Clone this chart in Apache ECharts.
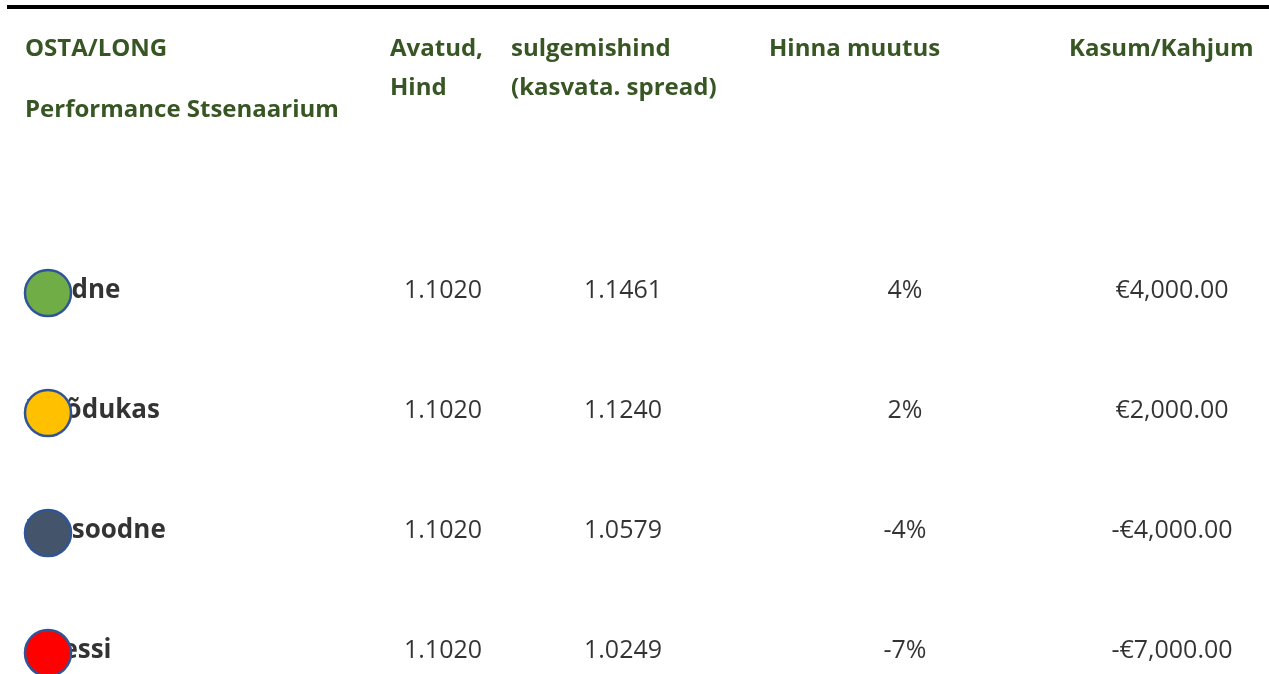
<!DOCTYPE html>
<html>
<head>
<meta charset="utf-8">
<script src="https://cdn.jsdelivr.net/npm/echarts@6/dist/echarts.min.js"></script>
<style>
  html, body { margin: 0; padding: 0; background: #fff; }
</style>
</head>
<body>
<div id="main" style="width:1269px;height:674px;"></div>
<script>
// tabeli andmed
const scenarios = ['Soodne', 'Mõõdukas', 'Ebasoodne', 'Stressi'];
const openPrice = [1.1020, 1.1020, 1.1020, 1.1020];
const closePrice = [1.1461, 1.1240, 1.0579, 1.0249];
const priceChange = [4, 2, -4, -7];
const profitLoss = [4000, 2000, -4000, -7000];
const dotColors = ['#70AD47', '#FFC000', '#44546A', '#FF0000'];

const headerTitle = ['OSTA/LONG', 'Performance Stsenaarium'];
const headerOpen = ['Avatud,', 'Hind'];
const headerClose = ['sulgemishind', '(kasvata. spread)'];
const headerChange = ['Hinna muutus'];
const headerPnl = ['Kasum/Kahjum'];

const FONT = '"Open Sans", sans-serif';
const GREEN = '#375623';

function money(v) {
  const s = '€' + Math.abs(v).toLocaleString('en-US', { minimumFractionDigits: 2, maximumFractionDigits: 2 });
  return v < 0 ? '-' + s : s;
}

// veergude asukohad (px)
const colName = 25, colOpen = 443, colClose = 623, colChange = 905, colPnl = 1172;

function textSeries(x, texts, align, bold) {
  return {
    type: 'scatter',
    symbolSize: 1,
    itemStyle: { color: 'rgba(0,0,0,0)' },
    silent: true,
    z: 2,
    data: scenarios.map((s, i) => ({ value: [x, s], label: { formatter: texts[i] } })),
    label: {
      show: true,
      position: 'inside',
      align: align,
      verticalAlign: 'middle',
      color: '#000',
      textBorderWidth: 0,
      fontFamily: FONT,
      fontSize: bold ? 26 : 25,
      fontWeight: bold ? 'bold' : 'normal'
    }
  };
}

const graphics = [
  { type: 'rect', shape: { x: 7, y: 5, width: 1262, height: 4 }, style: { fill: '#000' } }
];
// päise paigutus
[[colName, headerTitle, [49, 110]],
 [390, headerOpen, [49, 88]],
 [511, headerClose, [49, 88]],
 [769, headerChange, [49]],
 [1069, headerPnl, [49]]].forEach(([x, lines, ys]) => {
  lines.forEach((t, i) => {
    graphics.push({
      type: 'text', x: x, y: ys[i],
      style: { text: t, fill: GREEN, font: 'bold 24px ' + FONT, textVerticalAlign: 'middle' }
    });
  });
});

const chart = echarts.init(document.getElementById('main'));
chart.setOption({
  animation: false,
  grid: { left: 0, right: 0, top: 291, bottom: 23 },
  xAxis: { type: 'value', min: 0, max: 1269, show: false },
  yAxis: { type: 'category', data: scenarios, inverse: true, boundaryGap: false, show: false },
  graphic: graphics,
  series: [
    textSeries(colName, scenarios, 'left', true),
    textSeries(colOpen, openPrice.map(v => v.toFixed(4)), 'center', false),
    textSeries(colClose, closePrice.map(v => v.toFixed(4)), 'center', false),
    textSeries(colChange, priceChange.map(v => v + '%'), 'center', false),
    textSeries(colPnl, profitLoss.map(money), 'center', false),
    {
      type: 'scatter',
      symbol: 'circle',
      symbolSize: 46,
      symbolOffset: [0, 2],
      silent: true,
      z: 5,
      data: scenarios.map((s, i) => ({ value: [48, s], itemStyle: { color: dotColors[i] } })),
      itemStyle: { borderColor: '#2F5597', borderWidth: 2.5, opacity: 1 }
    }
  ]
});
</script>
</body>
</html>
